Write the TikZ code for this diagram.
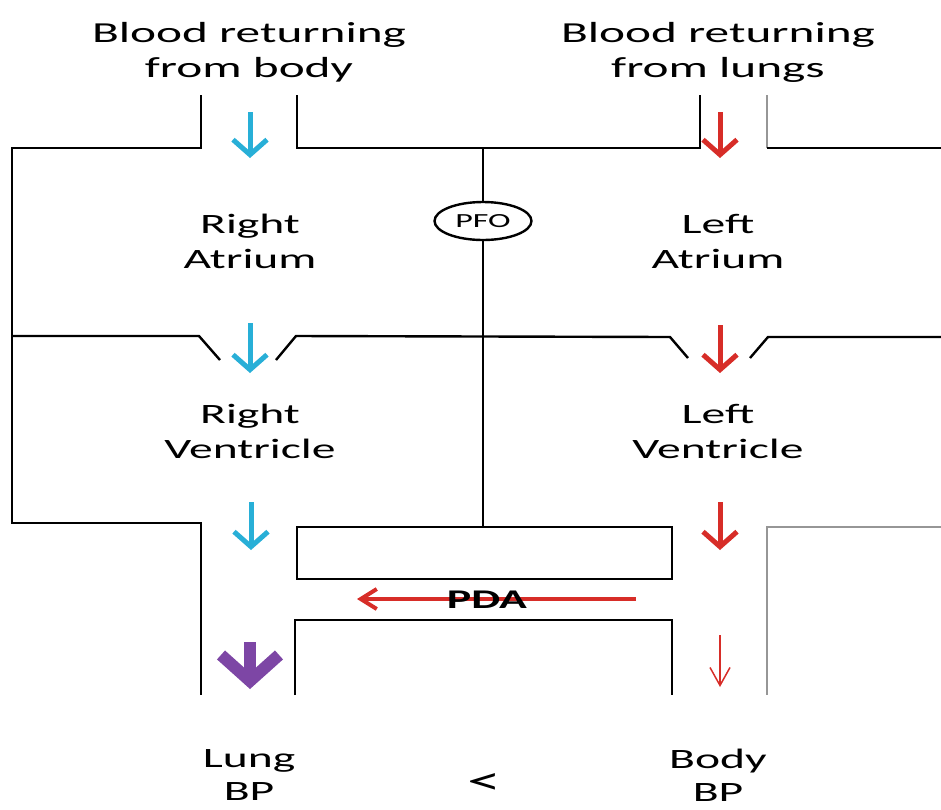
\documentclass[tikz,border=0pt]{standalone}
\usepackage{fontspec}
\setmainfont{Carlito}[FakeStretch=1.7]
\usetikzlibrary{arrows.meta,shapes.geometric}
\definecolor{venous}{RGB}{40,175,215}
\definecolor{arterial}{RGB}{215,45,40}
\definecolor{mixed}{RGB}{125,70,165}
\definecolor{wallgray}{RGB}{150,150,150}
\begin{document}
\begin{tikzpicture}[
        x=1pt, y=-1pt,
        every node/.style={font=\fontsize{28}{35}\selectfont, align=center, inner sep=0pt},
        wall/.style={draw, line width=2.4pt},
        graywall/.style={draw=wallgray, line width=2.4pt},
        flow/.style={line width=5pt, -{Straight Barb[length=15pt, width=34pt]}},
        thickflow/.style={line width=12pt, -{Straight Barb[length=26pt, width=58pt]}},
        thinflow/.style={line width=1.5pt, -{Straight Barb[length=18pt, width=20pt]}},
        shunt/.style={line width=4pt, arterial, -{Straight Barb[length=16pt, width=20pt]}}
    ]
    \useasboundingbox (0,0) rectangle (941,809);
    % labels
    \node[font=\fontsize{29}{35}\selectfont] (inbody)  at (249,52)  {Blood returning\\from body};
    \node[font=\fontsize{29}{35}\selectfont] (inlungs) at (718,52)  {Blood returning\\from lungs};
    \node (ra)      at (250,241) {Right\\Atrium};
    \node (la)      at (718,241) {Left\\Atrium};
    \node (rv)      at (250,431) {Right\\Ventricle};
    \node (lv)      at (718,431) {Left\\Ventricle};
    \node[font=\fontsize{28}{33}\selectfont] (lungbp)  at (249,775) {Lung\\BP};
    \node[font=\fontsize{28}{33}\selectfont] (bodybp)  at (718,775) {Body\\BP};
    \node[font=\fontsize{40}{40}\selectfont] (less)    at (484,784) {<};
    \node[ellipse, draw, line width=2.4pt, minimum width=97pt, minimum height=38pt,
          font=\fontsize{20}{24}\selectfont] (pfo) at (483,221) {PFO};
    % walls
    \draw[wall] (201,95) -- (201,148) -- (12,148) -- (12,523) -- (201,523) -- (201,695);
    \draw[wall] (297,95) -- (297,148) -- (700,148) -- (700,95);
    \draw[graywall] (767,95) -- (767,148);
    \draw[wall] (767,148) -- (941,148);
    \draw[wall] (12,336) -- (199,336) -- (220,360);
    \draw[wall] (276,360) -- (296,336) -- (670,337) -- (688,358);
    \draw[wall] (750,358) -- (768,337) -- (941,337);
    \draw[wall] (483,148) -- (pfo.north);
    \draw[wall] (pfo.south) -- (483,527);
    \draw[wall] (297,527) rectangle (672,579);
    \draw[wall] (295,695) -- (295,620) -- (672,620) -- (672,695);
    \draw[graywall] (941,527) -- (767,527) -- (767,695);
    % flow
    \coordinate (v1) at (250,112);  \coordinate (v1e) at (250,158);
    \coordinate (v2) at (250,323);  \coordinate (v2e) at (250,373);
    \coordinate (v3) at (251,502);  \coordinate (v3e) at (251,550);
    \coordinate (a1) at (720,112);  \coordinate (a1e) at (720,158);
    \coordinate (a2) at (720,325);  \coordinate (a2e) at (720,373);
    \coordinate (a3) at (720,502);  \coordinate (a3e) at (720,550);
    \coordinate (m1) at (250,642);  \coordinate (m1e) at (250,689);
    \coordinate (a4) at (720,635);  \coordinate (a4e) at (720,687);
    \coordinate (pdain) at (636,599); \coordinate (pdaout) at (357,599);
    \draw[flow, venous] (v1) -- (v1e);
    \draw[flow, venous] (v2) -- (v2e);
    \draw[flow, venous] (v3) -- (v3e);
    \draw[flow, arterial] (a1) -- (a1e);
    \draw[flow, arterial] (a2) -- (a2e);
    \draw[flow, arterial] (a3) -- (a3e);
    \draw[thickflow, mixed] (m1) -- (m1e);
    \draw[thinflow, arterial] (a4) -- (a4e);
    \draw[shunt] (pdain) -- (pdaout);
    \node[font=\fontsize{27}{30}\selectfont\bfseries] (pda) at (487,600) {PDA};
\end{tikzpicture}
\end{document}
